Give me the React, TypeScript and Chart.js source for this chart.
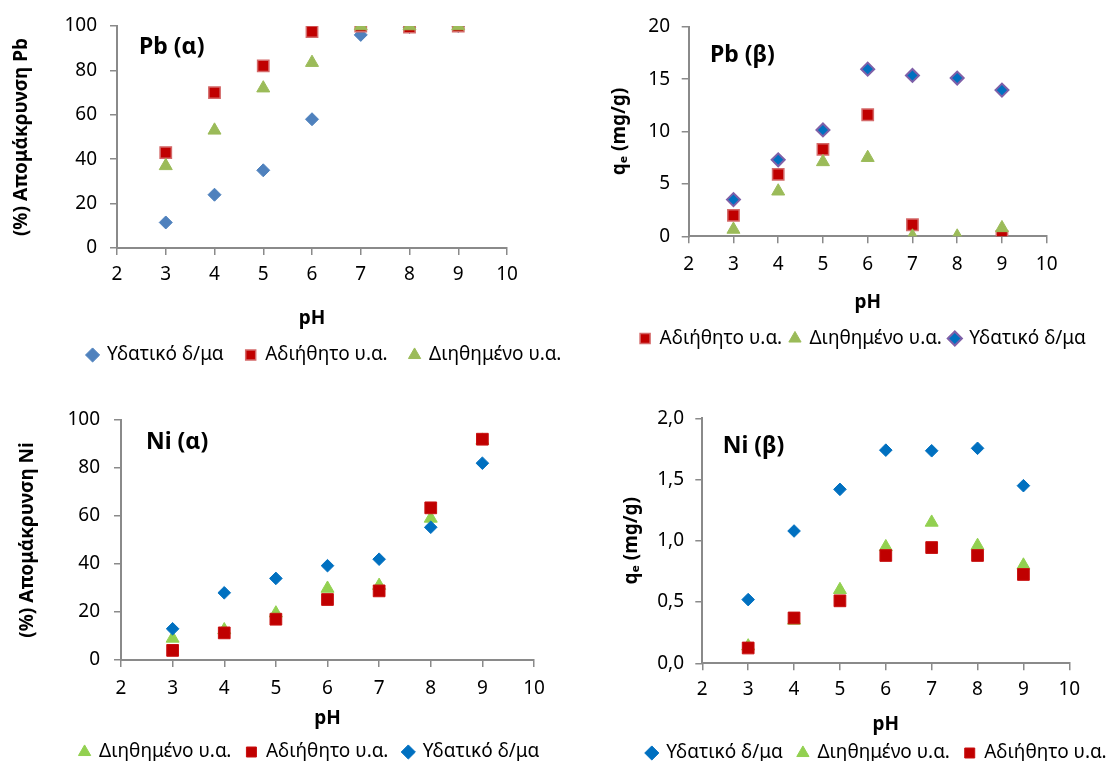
import React, { useEffect, useRef } from "react";
import { Chart, registerables } from "chart.js";

Chart.register(...registerables);

const FONT = "'Noto Sans', 'DejaVu Sans', sans-serif";

// ---------- data ----------
const PH = [3, 4, 5, 6, 7, 8, 9];
const X_MIN = 2;
const X_MAX = 10;

const S_WATER = "Υδατικό δ/μα";
const S_RAW = "Αδιήθητο υ.α.";
const S_FILT = "Διηθημένο υ.α.";

const TITLE_PB_A = "Pb (α)";
const TITLE_PB_B = "Pb (β)";
const TITLE_NI_A = "Ni (α)";
const TITLE_NI_B = "Ni (β)";

const Y_TITLE_PB = "(%) Απομάκρυνση Pb";
const Y_TITLE_NI = "(%) Απομάκρυνση Ni";
const Y_TITLE_Q = "qₑ (mg/g)";
const X_TITLE = "pH";

// Pb (α) – % removal
const PB_A_WATER = [11.5, 24, 35, 58, 96, 99.5, 100];
const PB_A_RAW = [43, 70, 82, 97.5, 100, 99.5, 100];
const PB_A_FILT = [37, 53, 72, 83.5, 100, 100, 100];

// Pb (β) – qe (mg/g)
const PB_B_RAW = [2.0, 5.9, 8.3, 11.6, 1.1, null, 0];
const PB_B_FILT = [0.65, 4.3, 7.1, 7.5, 0, 0, 0.8];
const PB_B_WATER = [3.5, 7.3, 10.15, 15.95, 15.35, 15.1, 13.95];

// Ni (α) – % removal
const NI_A_FILT = [9, 12.5, 19.5, 29.8, 31, 59, 91.5];
const NI_A_RAW = [4, 11.3, 17, 25.2, 28.8, 63.4, 92];
const NI_A_WATER = [13, 28, 34, 39.3, 42, 55.3, 82];

// Ni (β) – qe (mg/g)
const NI_B_WATER = [0.52, 1.08, 1.42, 1.74, 1.735, 1.755, 1.45];
const NI_B_FILT = [0.14, 0.35, 0.6, 0.95, 1.15, 0.96, 0.8];
const NI_B_RAW = [0.125, 0.37, 0.51, 0.88, 0.945, 0.88, 0.725];

// ---------- styles ----------
type MarkStyle = { shape: string; r: number; fill: string; stroke: string; bw: number };

const ST_BLUE_1: MarkStyle = { shape: "rectRot", r: 6.5, fill: "#4F81BD", stroke: "#4F81BD", bw: 1 };
const ST_RED_1: MarkStyle = { shape: "rect", r: 8, fill: "#C00000", stroke: "#D46A6A", bw: 1.5 };
const ST_GREEN_1: MarkStyle = { shape: "triangle", r: 7.5, fill: "#9BBB59", stroke: "#9BBB59", bw: 1 };
const ST_DIAM_2: MarkStyle = { shape: "rectRot", r: 6.5, fill: "#0070C0", stroke: "#7F60A8", bw: 2 };
const ST_BLUE_3: MarkStyle = { shape: "rectRot", r: 6.3, fill: "#0070C0", stroke: "#0070C0", bw: 1 };
const ST_RED_3: MarkStyle = { shape: "rect", r: 8.3, fill: "#C00000", stroke: "#C81010", bw: 1 };
const ST_GREEN_3: MarkStyle = { shape: "triangle", r: 7.5, fill: "#92D050", stroke: "#92D050", bw: 1 };

const AXIS = "#8A8A8A";
const W = 1110;
const H = 761;

type Series = { label: string; values: (number | null)[]; style: MarkStyle };
type Spec = {
  title: string;
  yTitle: string;
  yMax: number;
  yStep: number;
  comma?: boolean;
  series: Series[];
  area: { left: number; right: number; top: number; bottom: number };
  yTitleX: number;
  yLabelRight: number;
  xLabelY: number;
  xTitleY: number;
  legendY: number;
  legendX: number;
  legendGap: number;
  ann: { x: number; y: number };
};

const SPECS: Spec[] = [
  {
    title: TITLE_PB_A, yTitle: Y_TITLE_PB, yMax: 100, yStep: 20,
    series: [
      { label: S_WATER, values: PB_A_WATER, style: ST_BLUE_1 },
      { label: S_RAW, values: PB_A_RAW, style: ST_RED_1 },
      { label: S_FILT, values: PB_A_FILT, style: ST_GREEN_1 },
    ],
    area: { left: 117, right: 507, top: 26, bottom: 236 },
    yTitleX: 22, yLabelRight: 97, xLabelY: 263, xTitleY: 307,
    legendY: 343, legendX: 324.5, legendGap: 22, ann: { x: 139, y: 47 },
  },
  {
    title: TITLE_PB_B, yTitle: Y_TITLE_Q, yMax: 20, yStep: 5,
    series: [
      { label: S_RAW, values: PB_B_RAW, style: ST_RED_1 },
      { label: S_FILT, values: PB_B_FILT, style: ST_GREEN_1 },
      { label: S_WATER, values: PB_B_WATER, style: ST_DIAM_2 },
    ],
    area: { left: 688.7, right: 1046.7, top: 26.7, bottom: 238.3 },
    yTitleX: 620, yLabelRight: 670, xLabelY: 266.7, xTitleY: 305,
    legendY: 340.5, legendX: 863, legendGap: 8, ann: { x: 710, y: 55 },
  },
  {
    title: TITLE_NI_A, yTitle: Y_TITLE_NI, yMax: 100, yStep: 20,
    series: [
      { label: S_FILT, values: NI_A_FILT, style: ST_GREEN_3 },
      { label: S_RAW, values: NI_A_RAW, style: ST_RED_3 },
      { label: S_WATER, values: NI_A_WATER, style: ST_BLUE_3 },
    ],
    area: { left: 121, right: 534, top: 420, bottom: 655 },
    yTitleX: 28, yLabelRight: 100, xLabelY: 683.3, xTitleY: 713.3,
    legendY: 747, legendX: 309.5, legendGap: 15, ann: { x: 146, y: 442.7 },
  },
  {
    title: TITLE_NI_B, yTitle: Y_TITLE_Q, yMax: 2, yStep: 0.5, comma: true,
    series: [
      { label: S_WATER, values: NI_B_WATER, style: ST_BLUE_3 },
      { label: S_FILT, values: NI_B_FILT, style: ST_GREEN_3 },
      { label: S_RAW, values: NI_B_RAW, style: ST_RED_3 },
    ],
    area: { left: 702.3, right: 1069.3, top: 418.3, bottom: 658.3 },
    yTitleX: 632, yLabelRight: 684, xLabelY: 685, xTitleY: 720,
    legendY: 748, legendX: 876.7, legendGap: 15, ann: { x: 722.7, y: 446 },
  },
];

const TICK_SIZE = 19;
const TITLE_SIZE = 19;
const LEG_SIZE = 19;
const ANN_SIZE = 23;
const TL = 7;

function buildConfig(spec: Spec): any {
  const titleLH = TITLE_SIZE * 1.2;
  const tickLH = TICK_SIZE * 1.2;
  const padLeft = -300;
  const { area } = spec;
  const legendH = 2 * spec.legendGap + LEG_SIZE;
  const legendTop = spec.legendY - spec.legendGap - LEG_SIZE / 2;
  const xH = legendTop - area.bottom;
  const padBottom = H - (legendTop + legendH);
  const yW = area.left - padLeft;
  const n = spec.series.length;

  const datasets = spec.series.map((s, i) => ({
    label: s.label,
    data: PH.map((x, k) => ({ x, y: s.values[k] })).filter((p) => p.y !== null),
    order: n - 1 - i,
    pointStyle: s.style.shape,
    pointRadius: s.style.r,
    pointHoverRadius: s.style.r,
    backgroundColor: s.style.fill,
    borderColor: s.style.stroke,
    borderWidth: s.style.bw,
    showLine: false,
  }));

  const pagePlugin = {
    id: "pageLayout",
    afterLayout(chart: any) {
      const lg = chart.legend;
      if (!lg) return;
      const w = lg.right - lg.left;
      lg.left = spec.legendX - w / 2;
      lg.right = lg.left + w;
    },
    afterDraw(chart: any) {
      const ctx = chart.ctx;
      ctx.save();
      ctx.font = `bold ${ANN_SIZE}px ${FONT}`;
      ctx.fillStyle = "#000";
      ctx.textBaseline = "middle";
      ctx.textAlign = "left";
      const ca = chart.chartArea;
      ctx.fillText(spec.title, ca.left + (spec.ann.x - area.left), ca.top + (spec.ann.y - area.top));
      ctx.restore();
    },
  };

  return {
    type: "scatter",
    data: { datasets },
    plugins: [pagePlugin],
    options: {
      responsive: false,
      animation: false,
      events: [],
      layout: {
        padding: { left: padLeft, top: area.top, right: W - area.right, bottom: padBottom },
      },
      plugins: {
        legend: {
          display: true,
          position: "bottom",
          labels: {
            usePointStyle: true,
            boxWidth: 10,
            boxHeight: 10,
            padding: spec.legendGap,
            color: "#000",
            font: { family: FONT, size: LEG_SIZE },
            sort: (a: any, b: any) => a.datasetIndex - b.datasetIndex,
          },
        },
        tooltip: { enabled: false },
      },
      scales: {
        x: {
          type: "linear",
          min: X_MIN,
          max: X_MAX,
          afterFit: (s: any) => { s.height = xH; },
          ticks: {
            stepSize: 1,
            padding: spec.xLabelY - area.bottom - TL - tickLH / 2,
            color: "#000",
            font: { family: FONT, size: TICK_SIZE },
          },
          grid: { drawOnChartArea: false, drawTicks: true, tickLength: TL, color: AXIS, lineWidth: 1.5 },
          border: { color: AXIS, width: 2 },
          title: {
            display: true,
            text: X_TITLE,
            color: "#000",
            font: { family: FONT, size: TITLE_SIZE, weight: "bold" },
            padding: { top: 0, bottom: legendTop - spec.xTitleY - titleLH / 2 },
          },
        },
        y: {
          type: "linear",
          min: 0,
          max: spec.yMax,
          afterFit: (s: any) => { s.width = yW; },
          ticks: {
            stepSize: spec.yStep,
            padding: area.left - TL - spec.yLabelRight,
            color: "#000",
            font: { family: FONT, size: TICK_SIZE },
            callback: (v: any) => (spec.comma ? Number(v).toFixed(1).replace(".", ",") : String(v)),
          },
          grid: { drawOnChartArea: false, drawTicks: true, tickLength: TL, color: AXIS, lineWidth: 1.5 },
          border: { color: AXIS, width: 2 },
          title: {
            display: true,
            text: spec.yTitle,
            color: "#000",
            font: { family: FONT, size: TITLE_SIZE, weight: "bold" },
            padding: { top: spec.yTitleX - padLeft - titleLH / 2, bottom: 0 },
          },
        },
      },
    },
  };
}

function ChartLayer({ spec }: { spec: Spec }) {
  const ref = useRef<HTMLCanvasElement | null>(null);
  useEffect(() => {
    if (!ref.current) return;
    const chart = new Chart(ref.current, buildConfig(spec));
    return () => chart.destroy();
  }, [spec]);
  return (
    <canvas
      ref={ref}
      width={W}
      height={H}
      style={{ position: "absolute", left: 0, top: 0, width: W, height: H }}
    />
  );
}

export default function App() {
  return (
    <div style={{ position: "absolute", left: 0, top: 0, width: W, height: H, background: "#fff", overflow: "hidden" }}>
      {SPECS.map((s, i) => (
        <ChartLayer key={i} spec={s} />
      ))}
    </div>
  );
}
